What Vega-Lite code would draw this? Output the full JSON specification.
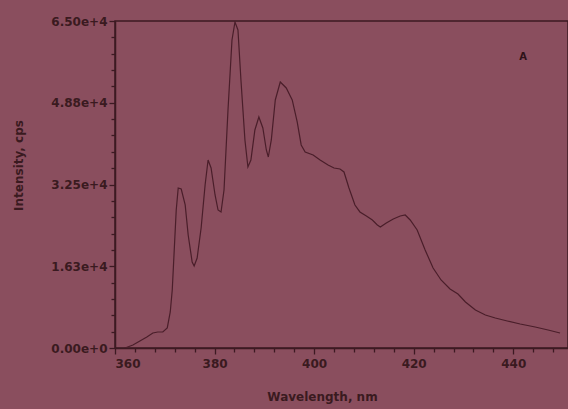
{
  "$schema": "https://vega.github.io/schema/vega-lite/v6.json",
  "width": 453,
  "height": 327,
  "autosize": "none",
  "padding": {"left": 115, "top": 21, "right": 0, "bottom": 61},
  "background": "#8a4e5e",
  "config": {
    "view": {"stroke": "#3c1a22", "strokeWidth": 1.5},
    "axis": {
      "domainColor": "#3c1a22",
      "domainWidth": 1.5,
      "tickColor": "#3c1a22",
      "tickWidth": 1.3,
      "labelColor": "#3a1a20",
      "titleColor": "#3a1a20",
      "labelFont": "DejaVu Sans",
      "titleFont": "DejaVu Sans",
      "labelFontSize": 12,
      "titleFontSize": 12,
      "labelFontWeight": "bold",
      "titleFontWeight": "bold",
      "grid": false
    }
  },
  "datasets": {
    "spectrum": [
      {"wavelength": 362.0, "intensity": 0},
      {"wavelength": 363.6, "intensity": 600},
      {"wavelength": 365.0, "intensity": 1390},
      {"wavelength": 366.4, "intensity": 2190},
      {"wavelength": 367.6, "intensity": 2980},
      {"wavelength": 368.6, "intensity": 3180},
      {"wavelength": 369.6, "intensity": 3180},
      {"wavelength": 370.5, "intensity": 3980},
      {"wavelength": 371.1, "intensity": 7160},
      {"wavelength": 371.5, "intensity": 11530},
      {"wavelength": 371.9, "intensity": 19480},
      {"wavelength": 372.3, "intensity": 27430},
      {"wavelength": 372.7, "intensity": 31810},
      {"wavelength": 373.3, "intensity": 31600},
      {"wavelength": 374.1, "intensity": 28430},
      {"wavelength": 374.7, "intensity": 22460},
      {"wavelength": 375.5, "intensity": 17100},
      {"wavelength": 375.9, "intensity": 16300},
      {"wavelength": 376.5, "intensity": 17890},
      {"wavelength": 377.3, "intensity": 23860},
      {"wavelength": 378.1, "intensity": 32400},
      {"wavelength": 378.7, "intensity": 37370},
      {"wavelength": 379.3, "intensity": 35780},
      {"wavelength": 380.1, "intensity": 30420},
      {"wavelength": 380.7, "intensity": 27430},
      {"wavelength": 381.3, "intensity": 27040},
      {"wavelength": 381.9, "intensity": 31410},
      {"wavelength": 382.7, "intensity": 47310},
      {"wavelength": 383.5, "intensity": 61230},
      {"wavelength": 384.1, "intensity": 64800},
      {"wavelength": 384.7, "intensity": 63220},
      {"wavelength": 385.3, "intensity": 53280},
      {"wavelength": 386.1, "intensity": 41350},
      {"wavelength": 386.7, "intensity": 35980},
      {"wavelength": 387.3, "intensity": 37370},
      {"wavelength": 388.1, "intensity": 43340},
      {"wavelength": 388.9, "intensity": 45920},
      {"wavelength": 389.7, "intensity": 43740},
      {"wavelength": 390.4, "intensity": 39360},
      {"wavelength": 390.8, "intensity": 37970},
      {"wavelength": 391.4, "intensity": 41350},
      {"wavelength": 392.2, "intensity": 49300},
      {"wavelength": 393.2, "intensity": 52880},
      {"wavelength": 394.4, "intensity": 51690},
      {"wavelength": 395.6, "intensity": 49300},
      {"wavelength": 396.6, "intensity": 44930},
      {"wavelength": 397.4, "intensity": 40360},
      {"wavelength": 398.2, "intensity": 38960},
      {"wavelength": 399.8, "intensity": 38370},
      {"wavelength": 401.2, "intensity": 37370},
      {"wavelength": 402.8, "intensity": 36380},
      {"wavelength": 404.0, "intensity": 35780},
      {"wavelength": 405.2, "intensity": 35590},
      {"wavelength": 406.0, "intensity": 34990},
      {"wavelength": 407.0, "intensity": 31810},
      {"wavelength": 408.2, "intensity": 28430},
      {"wavelength": 409.2, "intensity": 27040},
      {"wavelength": 410.5, "intensity": 26240},
      {"wavelength": 411.7, "intensity": 25450},
      {"wavelength": 412.7, "intensity": 24450},
      {"wavelength": 413.3, "intensity": 24050},
      {"wavelength": 414.5, "intensity": 24850},
      {"wavelength": 415.9, "intensity": 25650},
      {"wavelength": 417.3, "intensity": 26240},
      {"wavelength": 418.3, "intensity": 26440},
      {"wavelength": 419.3, "intensity": 25450},
      {"wavelength": 420.7, "intensity": 23460},
      {"wavelength": 422.3, "intensity": 19480},
      {"wavelength": 423.9, "intensity": 15900},
      {"wavelength": 425.5, "intensity": 13520},
      {"wavelength": 427.3, "intensity": 11730},
      {"wavelength": 428.9, "intensity": 10740},
      {"wavelength": 430.4, "intensity": 9140},
      {"wavelength": 432.4, "intensity": 7550},
      {"wavelength": 434.4, "intensity": 6560},
      {"wavelength": 436.4, "intensity": 5960},
      {"wavelength": 438.8, "intensity": 5370},
      {"wavelength": 441.4, "intensity": 4770},
      {"wavelength": 444.4, "intensity": 4170},
      {"wavelength": 447.0, "intensity": 3580},
      {"wavelength": 449.4, "intensity": 2980}
    ],
    "panel": [
      {"wavelength": 442, "intensity": 57800, "label": "A"}
    ]
  },
  "encoding": {
    "x": {
      "field": "wavelength",
      "type": "quantitative",
      "scale": {"domain": [360, 451], "nice": false, "zero": false},
      "axis": {
        "title": "Wavelength, nm",
        "values": [360, 364, 368, 372, 376, 380, 384, 388, 392, 396, 400, 404, 408, 412, 416, 420, 424, 428, 432, 436, 440, 444, 448],
        "format": "d",
        "labelOverlap": false,
        "labelOpacity": {"condition": {"test": "datum.value % 20 === 0", "value": 1}, "value": 0},
        "tickSize": {"condition": {"test": "datum.value % 20 === 0", "value": 6}, "value": 4},
        "labelPadding": 4,
        "titleX": 207,
        "titleY": 48,
        "titleAlign": "center",
        "titleBaseline": "middle"
      }
    },
    "y": {
      "field": "intensity",
      "type": "quantitative",
      "scale": {"domain": [0, 65000], "nice": false},
      "axis": {
        "title": "Intensity, cps",
        "values": [0, 3250, 6500, 9750, 13000, 16250, 19500, 22750, 26000, 29250, 32500, 35750, 39000, 42250, 45500, 48750, 52000, 55250, 58500, 61750, 65000],
        "format": ".2e",
        "labelOverlap": false,
        "labelOpacity": {"condition": {"test": "datum.value % 16250 === 0", "value": 1}, "value": 0},
        "tickSize": {"condition": {"test": "datum.value % 16250 === 0", "value": 6}, "value": 4},
        "labelPadding": 2,
        "titleX": -97,
        "titleY": 144,
        "titleAlign": "center",
        "titleBaseline": "middle"
      }
    }
  },
  "layer": [
    {
      "data": {"name": "spectrum"},
      "mark": {"type": "line", "color": "#4a1e2a", "strokeWidth": 1.2, "clip": true}
    },
    {
      "data": {"name": "panel"},
      "mark": {"type": "text", "font": "DejaVu Sans", "fontWeight": "bold", "fontSize": 10, "color": "#2e1218"},
      "encoding": {
        "text": {"field": "label"}
      }
    }
  ]
}
